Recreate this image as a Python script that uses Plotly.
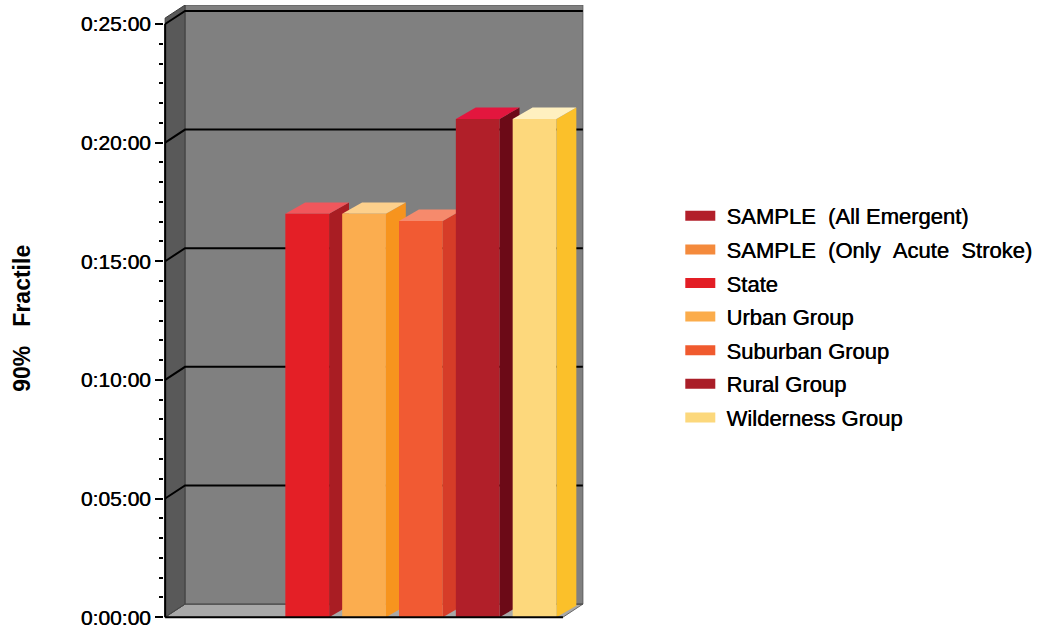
import plotly.graph_objects as go

# ---- data -----------------------------------------------------------------
series = [
    "SAMPLE (All Emergent)",
    "SAMPLE (Only Acute Stroke)",
    "State",
    "Urban Group",
    "Suburban Group",
    "Rural Group",
    "Wilderness Group",
]
legend_labels = [
    "SAMPLE\u00a0\u00a0(All\u00a0Emergent)",
    "SAMPLE\u00a0\u00a0(Only\u00a0\u00a0Acute\u00a0\u00a0Stroke)",
    "State",
    "Urban\u00a0Group",
    "Suburban\u00a0Group",
    "Rural\u00a0Group",
    "Wilderness\u00a0Group",
]
# 90% fractile, in minutes (no bar for the two SAMPLE series)
minutes = [None, None, 17.0, 17.0, 16.7, 21.0, 21.0]

legend_colors = ["#b21f2a", "#f48a3c", "#e31e25", "#fbac4b", "#f05a2e", "#aa1e28", "#fcd87c"]
front_colors = ["#b21f2a", "#f48a3c", "#e41f26", "#fbad4f", "#f15a33", "#b11f29", "#fdd87c"]
top_colors = ["#e0303c", "#f8a870", "#f0575c", "#fdd08c", "#f68a6c", "#e3163e", "#fff0c0"]
side_colors = ["#7a1018", "#d8701e", "#a91d23", "#f7941e", "#d63c28", "#6c0a17", "#fbc02a"]

tick_minutes = [0, 5, 10, 15, 20, 25]
tick_labels = ["0:00:00", "0:05:00", "0:10:00", "0:15:00", "0:20:00", "0:25:00"]

# ---- 3-D box geometry (data units) ----------------------------------------
DX, DY = 0.35, 0.55        # depth offset of the back wall
BDX, BDY = 0.35, 0.48      # depth offset of each bar
BAR_W = 0.77
WALL_TOP = 25.25
FONT = "Liberation Sans, Arial, Helvetica, sans-serif"
HEAVY = "0.45px 0 0 #000"   # slightly heavier strokes for the labels

n = len(series)
x0, x1 = -0.5, n - 0.5


def poly(pts):
    return "M" + "L".join(f"{x},{y}" for x, y in pts) + "Z"


def line_path(pts):
    return "M" + "L".join(f"{x},{y}" for x, y in pts)


shapes = []
# floor
shapes.append(dict(type="path", xref="x", yref="y", layer="below",
                   path=poly([(x0, 0), (x1, 0), (x1 + DX, DY), (x0 + DX, DY)]),
                   fillcolor="#a8a8a8", line=dict(color="#6a6a6a", width=1)))
# back wall
shapes.append(dict(type="path", xref="x", yref="y", layer="below",
                   path=poly([(x0 + DX, DY), (x1 + DX, DY),
                              (x1 + DX, WALL_TOP + DY), (x0 + DX, WALL_TOP + DY)]),
                   fillcolor="#808080", line=dict(color="#5a5a5a", width=1)))
# left wall
shapes.append(dict(type="path", xref="x", yref="y", layer="below",
                   path=poly([(x0, 0), (x0 + DX, DY), (x0 + DX, WALL_TOP + DY), (x0, WALL_TOP)]),
                   fillcolor="#595959", line=dict(color="#3c3c3c", width=1)))
# gridlines on the walls
for v in tick_minutes:
    shapes.append(dict(type="path", xref="x", yref="y", layer="below",
                       path=line_path([(x0, v), (x0 + DX, v + DY), (x1 + DX, v + DY)]),
                       line=dict(color="black" if v > 0 else "#4a4a4a",
                                 width=2 if v > 0 else 1)))
# side and top faces of each bar
for i, v in enumerate(minutes):
    if v is None:
        continue
    xl, xr = i - BAR_W / 2, i + BAR_W / 2
    shapes.append(dict(type="path", xref="x", yref="y", layer="below",
                       path=poly([(xr, 0), (xr + BDX, BDY), (xr + BDX, v + BDY), (xr, v)]),
                       fillcolor=side_colors[i], line=dict(width=0)))
    shapes.append(dict(type="path", xref="x", yref="y", layer="below",
                       path=poly([(xl, v), (xl + BDX, v + BDY), (xr + BDX, v + BDY), (xr, v)]),
                       fillcolor=top_colors[i], line=dict(width=0)))
# value axis line and category axis line
shapes.append(dict(type="line", xref="x", yref="y", x0=x0, x1=x0, y0=0, y1=tick_minutes[-1],
                   line=dict(color="black", width=2)))
shapes.append(dict(type="line", xref="x", yref="y", x0=x0, x1=x1, y0=0, y1=0,
                   line=dict(color="black", width=2)))

fig = go.Figure()
for i, name in enumerate(series):
    fig.add_trace(go.Bar(
        x=[i], y=[minutes[i]], width=BAR_W, name=name,
        marker=dict(color=front_colors[i], line=dict(width=0)),
        legendgroup=name, showlegend=False, hoverinfo="skip",
    ))
for i, name in enumerate(series):
    fig.add_trace(go.Scatter(
        x=[None], y=[None], mode="lines", name="\u00a0" + legend_labels[i],
        line=dict(color=legend_colors[i], width=13),
        legendgroup=name, showlegend=True, hoverinfo="skip",
    ))

minor_vals = [k * 5 / 6 for k in range(31) if k % 6 != 0]

fig.update_layout(
    width=1045, height=634,
    margin=dict(l=164, r=461, t=5, b=14),
    paper_bgcolor="white", plot_bgcolor="white",
    barmode="overlay",
    shapes=shapes,
    showlegend=True,
    xaxis=dict(range=[-0.52, 6.87], visible=False, fixedrange=True),
    yaxis=dict(
        range=[-0.12, 25.8], fixedrange=True,
        tickmode="array", tickvals=tick_minutes, ticktext=tick_labels,
        ticks="outside", ticklen=8, tickwidth=2, tickcolor="black",
        tickfont=dict(family=FONT, size=21, color="black", shadow=HEAVY),
        showgrid=False, zeroline=False, showline=False,
        minor=dict(tickmode="array", tickvals=minor_vals, ticks="outside",
                   ticklen=4, tickwidth=1.5, tickcolor="black", showgrid=False),
    ),
    legend=dict(
        xref="container", yref="container", x=0.651, y=0.5, xanchor="left", yanchor="middle",
        font=dict(family=FONT, size=22, color="black", shadow=HEAVY),
        itemwidth=30, tracegroupgap=2, traceorder="grouped",
        bgcolor="rgba(0,0,0,0)",
    ),
    annotations=[dict(
        text="<b>90%\u00a0\u00a0\u00a0Fractile</b>", textangle=-90,
        xref="paper", yref="paper", x=-0.34, y=0.49,
        xanchor="center", yanchor="middle", showarrow=False,
        font=dict(family=FONT, size=23, color="black"),
    )],
)

fig.write_html("out.html")
